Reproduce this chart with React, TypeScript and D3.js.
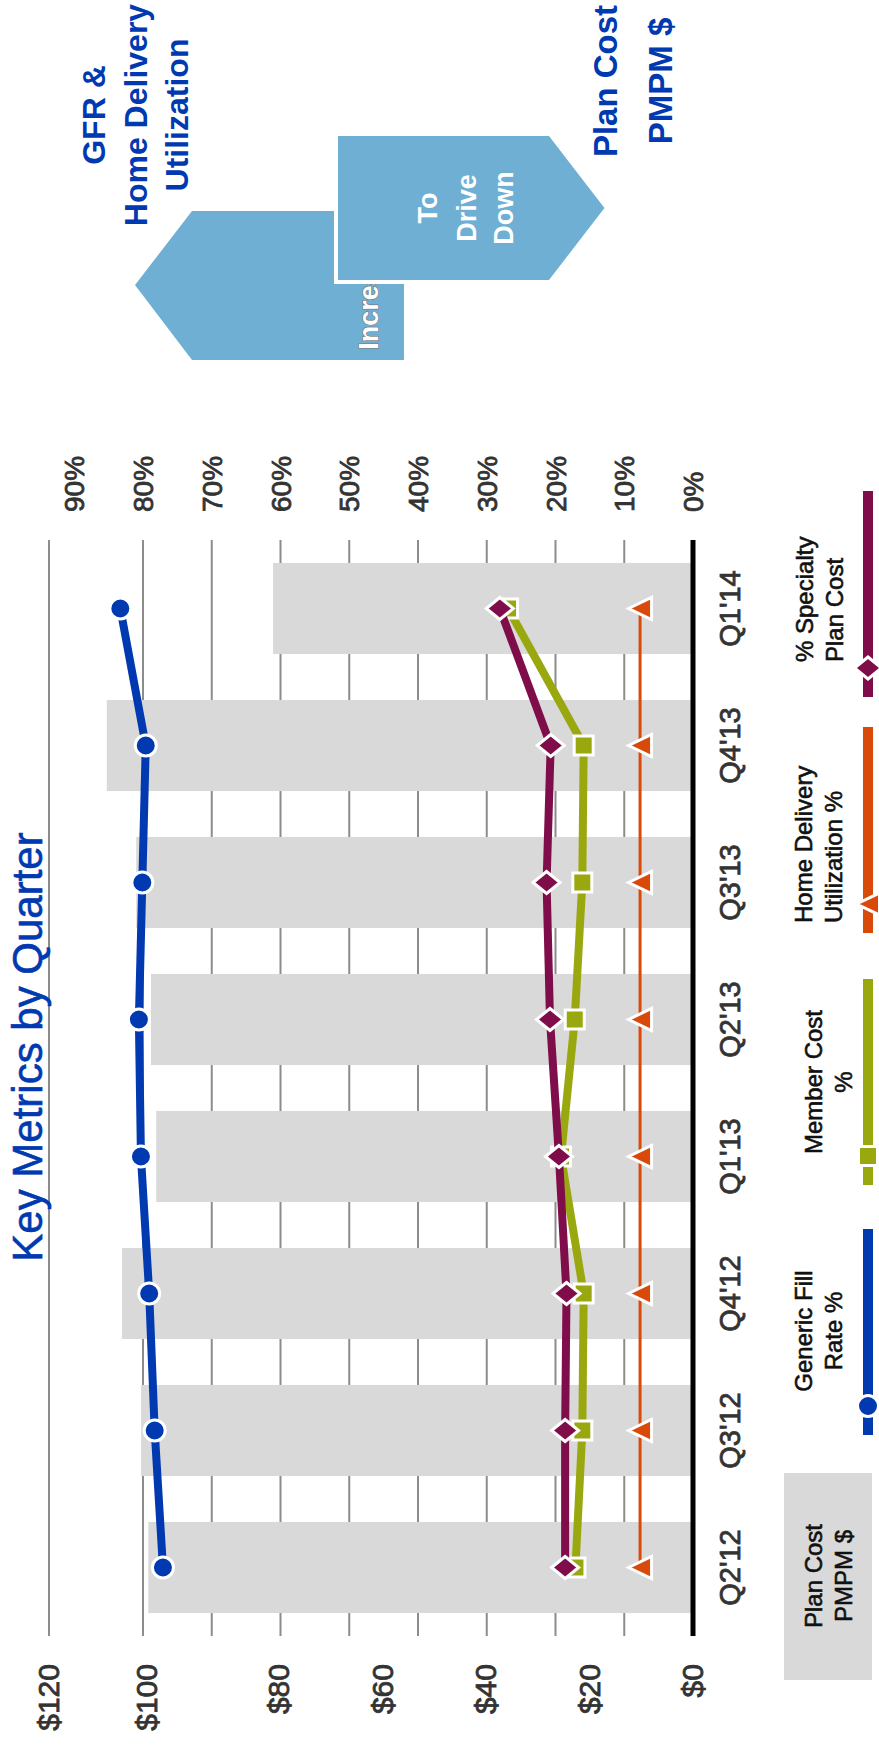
import React, { useEffect, useRef } from "react";
import * as d3 from "d3";

// chart data
const quarters = ["Q2'12", "Q3'12", "Q4'12", "Q1'13", "Q2'13", "Q3'13", "Q4'13", "Q1'14"];
const planCostPMPM = [99.8, 101.2, 105.1, 98.6, 99.4, 102.2, 108.2, 80.9];
const genericFillRate = [77.1, 78.3, 79.1, 80.3, 80.6, 80.1, 79.6, 83.3];
const memberCostPct = [17.1, 16.1, 15.9, 19.2, 17.2, 16.1, 15.9, 26.9];
const homeDeliveryPct = [7.7, 7.7, 7.7, 7.7, 7.7, 7.7, 7.7, 7.7];
const specialtyCostPct = [18.6, 18.6, 18.4, 19.5, 20.8, 21.3, 20.7, 28.1];
const dollarTicks = [0, 20, 40, 60, 80, 100, 120];
const percentTicks = [0, 10, 20, 30, 40, 50, 60, 70, 80, 90];

const legendNames = [
  ["Generic Fill", "Rate %"],
  ["Member Cost", "%"],
  ["Home Delivery", "Utilization %"],
  ["% Specialty", "Plan Cost"],
];

// the chart is laid out landscape (W x H) and then turned on its side
const W = 1746;
const FONT = "'Liberation Sans', Arial, sans-serif";
const BLUE = "#0039b0";
const GREEN = "#9aa80f";
const ORANGE = "#d94a0a";
const PURPLE = "#7f0d4a";
const ARROW = "#70afd4";
const LABEL = "#333";

function App() {
  const svgRef = useRef<SVGSVGElement>(null);

  useEffect(() => {
    document.body.style.margin = "0";
    const svg = d3.select(svgRef.current);
    svg.selectAll("*").remove();

    const g = svg.append("g").attr("transform", `translate(0,${W}) rotate(-90)`);

    const plotL = 110;
    const plotR = 1206;
    const x = d3.scaleBand<string>().domain(quarters)
      .range([plotL, plotR]).paddingInner(0.335).paddingOuter(0.1675);
    const xc = (i: number) => (x(quarters[i]) as number) + x.bandwidth() / 2;
    const yPct = d3.scaleLinear().domain([0, 80]).range([693, 143]);
    // the $ axis in the picture is not evenly spaced above $80
    const yUsd = d3.scaleLinear().domain([0, 80, 100, 120]).range([693, 279, 147, 49]);

    // gridlines
    g.append("g").selectAll("line")
      .data(percentTicks.filter(t => t > 0 && t <= 80)).enter().append("line")
      .attr("x1", plotL).attr("x2", plotR)
      .attr("y1", d => yPct(d)).attr("y2", d => yPct(d))
      .attr("stroke", "#8c8c8c").attr("stroke-width", 2);
    g.append("line")
      .attr("x1", plotL).attr("x2", plotR)
      .attr("y1", yUsd(120)).attr("y2", yUsd(120))
      .attr("stroke", "#8c8c8c").attr("stroke-width", 2);

    // plan cost bars
    g.append("g").selectAll("rect")
      .data(planCostPMPM).enter().append("rect")
      .attr("x", (d, i) => x(quarters[i]) as number)
      .attr("width", x.bandwidth())
      .attr("y", d => yUsd(d))
      .attr("height", d => yUsd(0) - yUsd(d))
      .attr("fill", "#d9d9d9");

    g.append("line")
      .attr("x1", plotL).attr("x2", plotR)
      .attr("y1", yPct(0)).attr("y2", yPct(0))
      .attr("stroke", "#000").attr("stroke-width", 5);

    // axes labels
    const labels = g.append("g")
      .attr("font-family", FONT).attr("fill", LABEL)
      .attr("stroke", LABEL).attr("stroke-width", 0.8);
    labels.append("g").selectAll("text")
      .data(dollarTicks).enter().append("text")
      .attr("x", 82).attr("y", d => yUsd(d) + 10)
      .attr("text-anchor", "end").attr("font-size", 30)
      .text(d => `$${d}`);
    labels.append("g").selectAll("text")
      .data(percentTicks).enter().append("text")
      .attr("x", 1234).attr("y", d => yPct(d) + 10)
      .attr("font-size", 28)
      .text(d => `${d}%`);
    labels.append("g").selectAll("text")
      .data(quarters).enter().append("text")
      .attr("x", (d, i) => xc(i)).attr("y", 740)
      .attr("text-anchor", "middle").attr("font-size", 29)
      .text(d => d);

    const markers: Record<string, string> = {
      circle: d3.symbol().type(d3.symbolCircle).size(Math.PI * 10.5 * 10.5)() as string,
      square: d3.symbol().type(d3.symbolSquare).size(19 * 19)() as string,
      diamond: "M0,-13.5L11,0L0,13.5L-11,0Z",
      triangle: "M0,-11.5L11,11.5L-11,11.5Z",
    };

    const series = [
      { values: genericFillRate, color: BLUE, width: 8, marker: "circle" },
      { values: memberCostPct, color: GREEN, width: 8, marker: "square" },
      { values: homeDeliveryPct, color: ORANGE, width: 3, marker: "triangle" },
      { values: specialtyCostPct, color: PURPLE, width: 8, marker: "diamond" },
    ];

    const line = d3.line<number>().x((d, i) => xc(i)).y(d => yPct(d));

    series.forEach(s => {
      g.append("path")
        .attr("d", line(s.values))
        .attr("fill", "none").attr("stroke", s.color)
        .attr("stroke-width", s.width).attr("stroke-linejoin", "round");
      g.append("g").selectAll("path")
        .data(s.values).enter().append("path")
        .attr("d", markers[s.marker])
        .attr("transform", (d, i) => `translate(${xc(i)},${yPct(d)})`)
        .attr("fill", s.color).attr("stroke", "#fff").attr("stroke-width", 3);
    });

    // legend
    const lg = g.append("g").attr("font-family", FONT).attr("font-size", 24);
    lg.append("rect").attr("x", 66).attr("y", 784).attr("width", 207).attr("height", 88).attr("fill", "#d9d9d9");
    const lt = lg.append("g").attr("fill", "#111").attr("stroke", "#111").attr("stroke-width", 0.6);
    lt.append("text").attr("x", 170).attr("y", 822).attr("text-anchor", "middle").text("Plan Cost");
    lt.append("text").attr("x", 170).attr("y", 852).attr("text-anchor", "middle").text("PMPM $");

    const legendStart = [311, 561, 813, 1049];
    const legendTextX = [415, 664, 823, 1084];
    const legendAnchor = ["middle", "middle", "start", "start"];
    const legendBase = [812, 822, 812, 813];
    series.forEach((s, i) => {
      lg.append("line")
        .attr("x1", legendStart[i]).attr("x2", legendStart[i] + 206)
        .attr("y1", 868).attr("y2", 868)
        .attr("stroke", s.color).attr("stroke-width", 10);
      lg.append("path")
        .attr("d", markers[s.marker])
        .attr("transform", `translate(${legendStart[i] + 29},868)`)
        .attr("fill", s.color).attr("stroke", "#fff").attr("stroke-width", 3);
      legendNames[i].forEach((t, k) => {
        lt.append("text")
          .attr("x", legendTextX[i]).attr("y", legendBase[i] + k * 30)
          .attr("text-anchor", legendAnchor[i]).text(t);
      });
    });

    // title
    g.append("text")
      .attr("x", 699).attr("y", 42).attr("text-anchor", "middle")
      .attr("font-family", FONT).attr("font-size", 42).attr("fill", BLUE)
      .attr("stroke", BLUE).attr("stroke-width", 0.6)
      .text("Key Metrics by Quarter");

    // arrows at the side
    const ag = g.append("g").attr("font-family", FONT).attr("font-weight", "bold");
    ag.append("polygon")
      .attr("points", "1386,404 1386,192 1461,135 1535,192 1535,404")
      .attr("fill", ARROW);
    ag.append("text")
      .attr("x", 1451).attr("y", 378).attr("text-anchor", "middle")
      .attr("font-size", 27).attr("fill", "#fff")
      .attr("stroke", "#777").attr("stroke-width", 1.2).attr("paint-order", "stroke")
      .text("Increase");
    ag.append("polygon")
      .attr("points", "1464,336 1612,336 1612,550 1538,607 1464,550")
      .attr("fill", ARROW).attr("stroke", "#fff").attr("stroke-width", 4);
    ["To", "Drive", "Down"].forEach((t, k) => {
      ag.append("text")
        .attr("x", 1538).attr("y", [437, 476, 513][k]).attr("text-anchor", "middle")
        .attr("font-size", 27).attr("fill", "#fff").text(t);
    });
    ["GFR &", "Home Delivery", "Utilization"].forEach((t, k) => {
      ag.append("text")
        .attr("x", 1631).attr("y", [105, 147, 188][k]).attr("text-anchor", "middle")
        .attr("font-size", 32).attr("fill", BLUE).text(t);
    });
    ["Plan Cost", "PMPM $"].forEach((t, k) => {
      ag.append("text")
        .attr("x", 1665).attr("y", [617, 672][k]).attr("text-anchor", "middle")
        .attr("font-size", 33).attr("fill", BLUE).text(t);
    });
  }, []);

  return (
    <svg ref={svgRef} width={879} height={1746}
      style={{ display: "block", background: "#fff" }}></svg>
  );
}

export default App;
